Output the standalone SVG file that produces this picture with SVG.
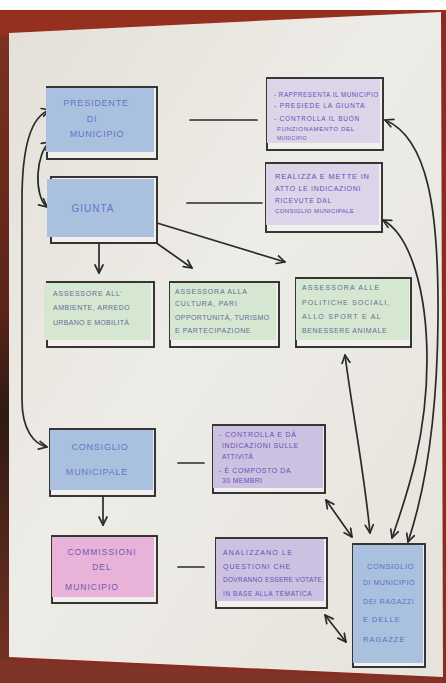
<svg xmlns="http://www.w3.org/2000/svg" width="446" height="683" viewBox="0 0 446 683">
<defs>
  <linearGradient id="paper" x1="0" y1="0" x2="1" y2="1">
    <stop offset="0" stop-color="#e4e0d8"/>
    <stop offset="0.45" stop-color="#eeece7"/>
    <stop offset="1" stop-color="#e6e3dc"/>
  </linearGradient>
  <linearGradient id="leftedge" x1="0" y1="0" x2="0" y2="1">
    <stop offset="0" stop-color="#7e3322"/>
    <stop offset="0.45" stop-color="#5a2418"/>
    <stop offset="0.6" stop-color="#2e1a14"/>
    <stop offset="1" stop-color="#7a3424"/>
  </linearGradient>
  <marker id="ah" viewBox="0 0 10 10" refX="9" refY="5" markerWidth="10" markerHeight="10" markerUnits="userSpaceOnUse" orient="auto-start-reverse">
    <path d="M1,1 L9,5 L1,9" fill="none" stroke="#2a2a2a" stroke-width="1.7" stroke-linecap="round" stroke-linejoin="round"/>
  </marker>
</defs>
<style>
  .frame{fill:#f1efeb;stroke:#2d2d2d;stroke-width:1.9}
  .blue{fill:#a9c1de}
  .lilac{fill:#ddd4e9}
  .violet{fill:#cdc1e2}
  .green{fill:#d5e7d1}
  .pink{fill:#e9b3d9}
  .conn{fill:none;stroke:#2a2a2a;stroke-width:1.7;stroke-linecap:round}
  .arr{marker-end:url(#ah)}
  .dbl{marker-start:url(#ah);marker-end:url(#ah)}
  text{font-family:"Liberation Sans",Arial,sans-serif}
  .tb{font-size:9px;fill:#6872c6;letter-spacing:0.8px;text-anchor:middle}
  .tr{font-size:7.5px;fill:#5f6fc0;letter-spacing:0.6px}
  .tp{font-size:6.2px;fill:#6650b8;letter-spacing:0.4px}
  .tg{font-size:7px;fill:#5f7098;letter-spacing:0.8px}
  .tk{font-size:8.5px;fill:#7456b4;letter-spacing:1px;text-anchor:middle}
</style>

<!-- background -->
<rect x="0" y="0" width="446" height="683" fill="#8a2c20"/>
<rect x="0" y="0" width="446" height="10" fill="#ffffff"/>
<rect x="0" y="10" width="10" height="673" fill="url(#leftedge)"/>
<polygon points="0,10 446,10 446,14 0,36" fill="#95301f"/>
<polygon points="9,33 441,12 443,677 9,657" fill="url(#paper)"/>
<polygon points="0,660 446,680 446,683 0,683" fill="#7e3426"/>

<!-- connectors -->
<g id="connectors">
  <line class="conn" x1="190" y1="120" x2="257" y2="120"/>
  <line class="conn" x1="187" y1="203" x2="262" y2="203"/>
  <line class="conn" x1="178" y1="463" x2="204" y2="463"/>
  <line class="conn" x1="178" y1="567" x2="204" y2="567"/>
  <line class="conn arr" x1="99" y1="243" x2="99" y2="273"/>
  <line class="conn arr" x1="155" y1="242" x2="192" y2="268"/>
  <line class="conn arr" x1="157" y1="223" x2="285" y2="262"/>
  <line class="conn arr" x1="103" y1="496" x2="103" y2="525"/>
  <path class="conn dbl" d="M50,142 C36,152 33,195 47,207"/>
  <path class="conn dbl" d="M50,110 C30,116 22,150 22,200 L22,400 C22,430 34,444 47,447"/>
  <path class="conn dbl" d="M385,120 C428,138 439,210 438,320 C437,430 422,500 408,542"/>
  <path class="conn dbl" d="M383,220 C410,235 427,290 427,360 C427,440 405,500 392,538"/>
  <path class="conn dbl" d="M345,355 C352,410 364,470 370,533"/>
  <line class="conn dbl" x1="326" y1="500" x2="352" y2="537"/>
  <line class="conn dbl" x1="325" y1="615" x2="346" y2="642"/>
</g>

<!-- nodes -->
<g id="presidente">
  <rect class="frame" x="47" y="87" width="110" height="72"/>
  <rect class="blue" x="46" y="88" width="108" height="64"/>
  <text class="tb" x="96" y="106">PRESIDENTE</text>
  <text class="tb" x="92" y="122">DI</text>
  <text class="tb" x="97" y="137">MUNICIPIO</text>
</g>
<g id="giunta">
  <rect class="frame" x="51" y="177" width="106" height="66"/>
  <rect class="blue" x="47" y="179" width="107" height="58"/>
  <text class="tb" x="93" y="212" style="font-size:10px;letter-spacing:1px">GIUNTA</text>
</g>
<g id="ruolo-presidente">
  <rect class="frame" x="267" y="78" width="116" height="72"/>
  <rect class="lilac" x="267" y="79" width="113" height="64"/>
  <text class="tp" x="274" y="97" style="font-size:6.3px;letter-spacing:0.5px">- RAPPRESENTA IL MUNICIPIO</text>
  <text class="tp" x="274" y="108" style="font-size:6.8px;letter-spacing:0.8px">- PRESIEDE LA GIUNTA</text>
  <text class="tp" x="274" y="121" style="font-size:6.5px;letter-spacing:0.8px">- CONTROLLA IL BUON</text>
  <text class="tp" x="277" y="131" style="font-size:6.2px;letter-spacing:0.6px">FUNZIONAMENTO DEL</text>
  <text class="tp" x="277" y="140" style="font-size:5px">MUNICIPIO</text>
</g>
<g id="ruolo-giunta">
  <rect class="frame" x="266" y="163" width="116" height="69"/>
  <rect class="lilac" x="266" y="164" width="113" height="61"/>
  <text class="tp" x="275" y="179" style="font-size:7.5px;letter-spacing:0.8px">REALIZZA E METTE IN</text>
  <text class="tp" x="275" y="191" style="font-size:7px;letter-spacing:0.7px">ATTO LE INDICAZIONI</text>
  <text class="tp" x="275" y="203" style="font-size:6.5px;letter-spacing:0.8px">RICEVUTE DAL</text>
  <text class="tp" x="275" y="213" style="font-size:6px;letter-spacing:0.4px">CONSIGLIO MUNICIPALE</text>
</g>
<g id="assessore-ambiente">
  <rect class="frame" x="47" y="282" width="107" height="65"/>
  <rect class="green" x="44" y="283" width="107" height="57"/>
  <text class="tg" x="53" y="296">ASSESSORE ALL'</text>
  <text class="tg" x="53" y="310" style="letter-spacing:0.5px">AMBIENTE, ARREDO</text>
  <text class="tg" x="53" y="325" style="letter-spacing:0.3px">URBANO E MOBILITÀ</text>
</g>
<g id="assessora-cultura">
  <rect class="frame" x="170" y="282" width="109" height="65"/>
  <rect class="green" x="170" y="283" width="106" height="57"/>
  <text class="tg" x="175" y="294">ASSESSORA ALLA</text>
  <text class="tg" x="175" y="306">CULTURA, PARI</text>
  <text class="tg" x="175" y="320" style="letter-spacing:0.4px">OPPORTUNITÀ, TURISMO</text>
  <text class="tg" x="175" y="333" style="letter-spacing:0.6px">E PARTECIPAZIONE</text>
</g>
<g id="assessora-politiche">
  <rect class="frame" x="296" y="278" width="115" height="69"/>
  <rect class="green" x="296" y="279" width="113" height="61"/>
  <text class="tg" x="302" y="290" style="letter-spacing:1.2px">ASSESSORA ALLE</text>
  <text class="tg" x="302" y="305" style="letter-spacing:1.1px">POLITICHE SOCIALI,</text>
  <text class="tg" x="302" y="319" style="letter-spacing:1.3px">ALLO SPORT E AL</text>
  <text class="tg" x="302" y="333" style="letter-spacing:0.6px">BENESSERE ANIMALE</text>
</g>
<g id="consiglio-municipale">
  <rect class="frame" x="50" y="429" width="105" height="67"/>
  <rect class="blue" x="50" y="430" width="103" height="60"/>
  <text class="tb" x="100" y="450">CONSIGLIO</text>
  <text class="tb" x="97" y="475">MUNICIPALE</text>
</g>
<g id="ruolo-consiglio">
  <rect class="frame" x="213" y="425" width="112" height="68"/>
  <rect class="violet" x="213" y="426" width="110" height="62"/>
  <text class="tp" x="219" y="437" style="font-size:7px;letter-spacing:0.8px">- CONTROLLA E DÀ</text>
  <text class="tp" x="222" y="448" style="font-size:7px;letter-spacing:0.6px">INDICAZIONI SULLE</text>
  <text class="tp" x="222" y="459" style="font-size:6.5px">ATTIVITÀ</text>
  <text class="tp" x="219" y="473" style="font-size:7px;letter-spacing:0.6px">- È COMPOSTO DA</text>
  <text class="tp" x="222" y="483" style="font-size:6.8px;letter-spacing:0.4px">30 MEMBRI</text>
</g>
<g id="commissioni">
  <rect class="frame" x="52" y="536" width="105" height="67"/>
  <rect class="pink" x="52" y="537" width="102" height="60"/>
  <text class="tk" x="102" y="555">COMMISSIONI</text>
  <text class="tk" x="102" y="570">DEL</text>
  <text class="tk" x="92" y="590">MUNICIPIO</text>
</g>
<g id="ruolo-commissioni">
  <rect class="frame" x="216" y="538" width="111" height="70"/>
  <rect class="violet" x="216" y="539" width="108" height="62"/>
  <text class="tp" x="223" y="555" style="font-size:7px;letter-spacing:1.2px">ANALIZZANO LE</text>
  <text class="tp" x="223" y="569" style="font-size:7px;letter-spacing:1px">QUESTIONI CHE</text>
  <text class="tp" x="223" y="582" style="font-size:6.5px;letter-spacing:0.3px">DOVRANNO ESSERE VOTATE,</text>
  <text class="tp" x="223" y="596" style="font-size:6.5px;letter-spacing:0.6px">IN BASE ALLA TEMATICA</text>
</g>
<g id="consiglio-ragazzi">
  <rect class="frame" x="353" y="544" width="72" height="123"/>
  <rect class="blue" x="353" y="545" width="70" height="118"/>
  <text class="tr" x="367" y="569">CONSIGLIO</text>
  <text class="tr" x="363" y="585" style="font-size:7px;letter-spacing:0.5px">DI MUNICIPIO</text>
  <text class="tr" x="363" y="604" style="font-size:7px;letter-spacing:0.7px">DEI RAGAZZI</text>
  <text class="tr" x="363" y="622" style="letter-spacing:1px">E DELLE</text>
  <text class="tr" x="363" y="642" style="letter-spacing:1px">RAGAZZE</text>
</g>
</svg>
